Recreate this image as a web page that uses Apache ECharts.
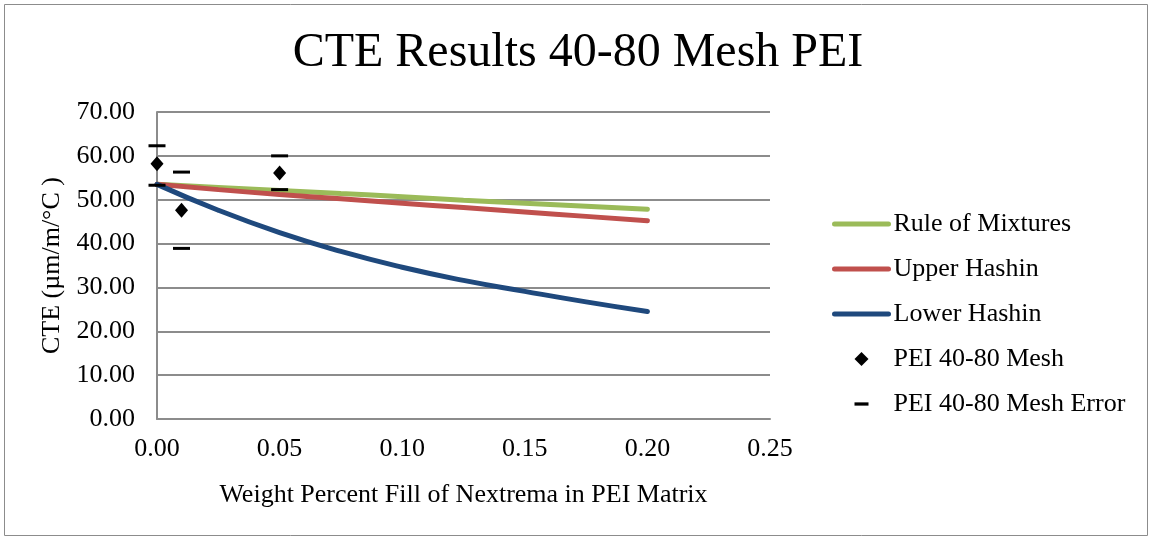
<!DOCTYPE html>
<html>
<head>
<meta charset="utf-8">
<script src="https://cdn.jsdelivr.net/npm/echarts@6/dist/echarts.min.js"></script>
<style>
  html, body { margin: 0; padding: 0; background: #fff; }
  #main { width: 1152px; height: 540px; }
</style>
</head>
<body>
<div id="main"></div>
<script>
// Model curves (x = weight fraction)
const modelX = [0, 0.025, 0.05, 0.075, 0.10, 0.125, 0.15, 0.175, 0.20];
const ruleOfMixtures = [53.5, 52.8, 52.1, 51.4, 50.7, 49.9, 49.2, 48.5, 47.8];
const upperHashin = [53.5, 52.3, 51.2, 50.2, 49.2, 48.2, 47.2, 46.2, 45.2];
const lowerHashin = [53.5, 47.6, 42.5, 38.2, 34.6, 31.6, 29.1, 26.7, 24.5];

// Measured points and error bar ends
const measuredX = [0.00, 0.01, 0.05];
const measuredCTE = [58.2, 47.6, 56.1];
const errHigh = [62.3, 56.3, 60.0];
const errLow = [53.3, 38.9, 52.3];

const serif = "'Liberation Serif', 'DejaVu Serif', serif";

const pair = (xs, ys) => xs.map((x, i) => [x, ys[i]]);

const errData = [];
measuredX.forEach((x, i) => {
  errData.push([x, errHigh[i]]);
  errData.push([x, errLow[i]]);
});

const lineSeries = (name, values, color) => ({
  name: name,
  type: "line",
  data: pair(modelX, values),
  smooth: true,
  symbol: "none",
  lineStyle: { color: color, width: 5, cap: "round" },
  itemStyle: { color: color },
  z: 2,
});

// thick line icon, without the circle ECharts puts in the middle
const lineIcon = { itemStyle: { opacity: 0 }, lineStyle: { width: 5, cap: "round" } };

const chart = echarts.init(document.getElementById("main"));
chart.setOption({
  animation: false,
  title: {
    text: "CTE Results 40-80 Mesh PEI",
    left: 573,
    textAlign: "center",
    top: 24,
    textStyle: { fontFamily: serif, fontSize: 48, fontWeight: "normal", color: "#000" },
  },
  grid: { left: 157, right: 382, top: 112, bottom: 121 },
  legend: {
    orient: "vertical",
    left: 827,
    top: 204,
    itemWidth: 54,
    itemHeight: 14,
    itemGap: 15,
    textStyle: { fontFamily: serif, fontSize: 26, color: "#000", lineHeight: 30 },
    data: [
      Object.assign({ name: "Rule of Mixtures" }, lineIcon),
      Object.assign({ name: "Upper Hashin" }, lineIcon),
      Object.assign({ name: "Lower Hashin" }, lineIcon),
      { name: "PEI 40-80 Mesh", icon: "path://M0,0M6,0L12,6L6,12L0,6ZM12,12" },
      { name: "PEI 40-80 Mesh Error", icon: "path://M0,0M0,4.6H12V7.4H0ZM12,12" },
    ],
  },
  xAxis: {
    type: "value",
    min: 0,
    max: 0.25,
    interval: 0.05,
    name: "Weight Percent Fill of Nextrema in PEI Matrix",
    nameLocation: "middle",
    nameGap: 63,
    nameTextStyle: { fontFamily: serif, fontSize: 26, color: "#000" },
    axisLine: { lineStyle: { color: "#8c8c8c", width: 2 } },
    axisTick: { show: false },
    splitLine: { show: false },
    axisLabel: {
      fontFamily: serif,
      fontSize: 26,
      color: "#000",
      margin: 17,
      formatter: (v) => v.toFixed(2),
    },
  },
  yAxis: {
    type: "value",
    min: 0,
    max: 70,
    interval: 10,
    name: "CTE (µm/m/°C )",
    nameLocation: "middle",
    nameGap: 90,
    nameTextStyle: { fontFamily: serif, fontSize: 26, color: "#000" },
    axisLine: { show: true, lineStyle: { color: "#8c8c8c", width: 2 } },
    axisTick: { show: false },
    splitLine: { lineStyle: { color: "#8c8c8c", width: 2 } },
    axisLabel: {
      fontFamily: serif,
      fontSize: 26,
      color: "#000",
      margin: 22,
      formatter: (v) => v.toFixed(2),
    },
  },
  series: [
    lineSeries("Rule of Mixtures", ruleOfMixtures, "#9bbb59"),
    lineSeries("Upper Hashin", upperHashin, "#c0504d"),
    lineSeries("Lower Hashin", lowerHashin, "#1f497d"),
    {
      name: "PEI 40-80 Mesh",
      type: "scatter",
      data: pair(measuredX, measuredCTE),
      symbol: "diamond",
      symbolSize: [13, 15],
      itemStyle: { color: "#000", opacity: 1 },
      z: 5,
    },
    {
      name: "PEI 40-80 Mesh Error",
      type: "scatter",
      data: errData,
      symbol: "rect",
      symbolSize: [17, 3],
      itemStyle: { color: "#000", opacity: 1 },
      z: 5,
    },
  ],
  graphic: [
    {
      type: "rect",
      shape: { x: 4.5, y: 4.5, width: 1143, height: 531 },
      style: { fill: null, stroke: "#8c8c8c", lineWidth: 1 },
      silent: true,
    },
  ],
});
</script>
</body>
</html>
